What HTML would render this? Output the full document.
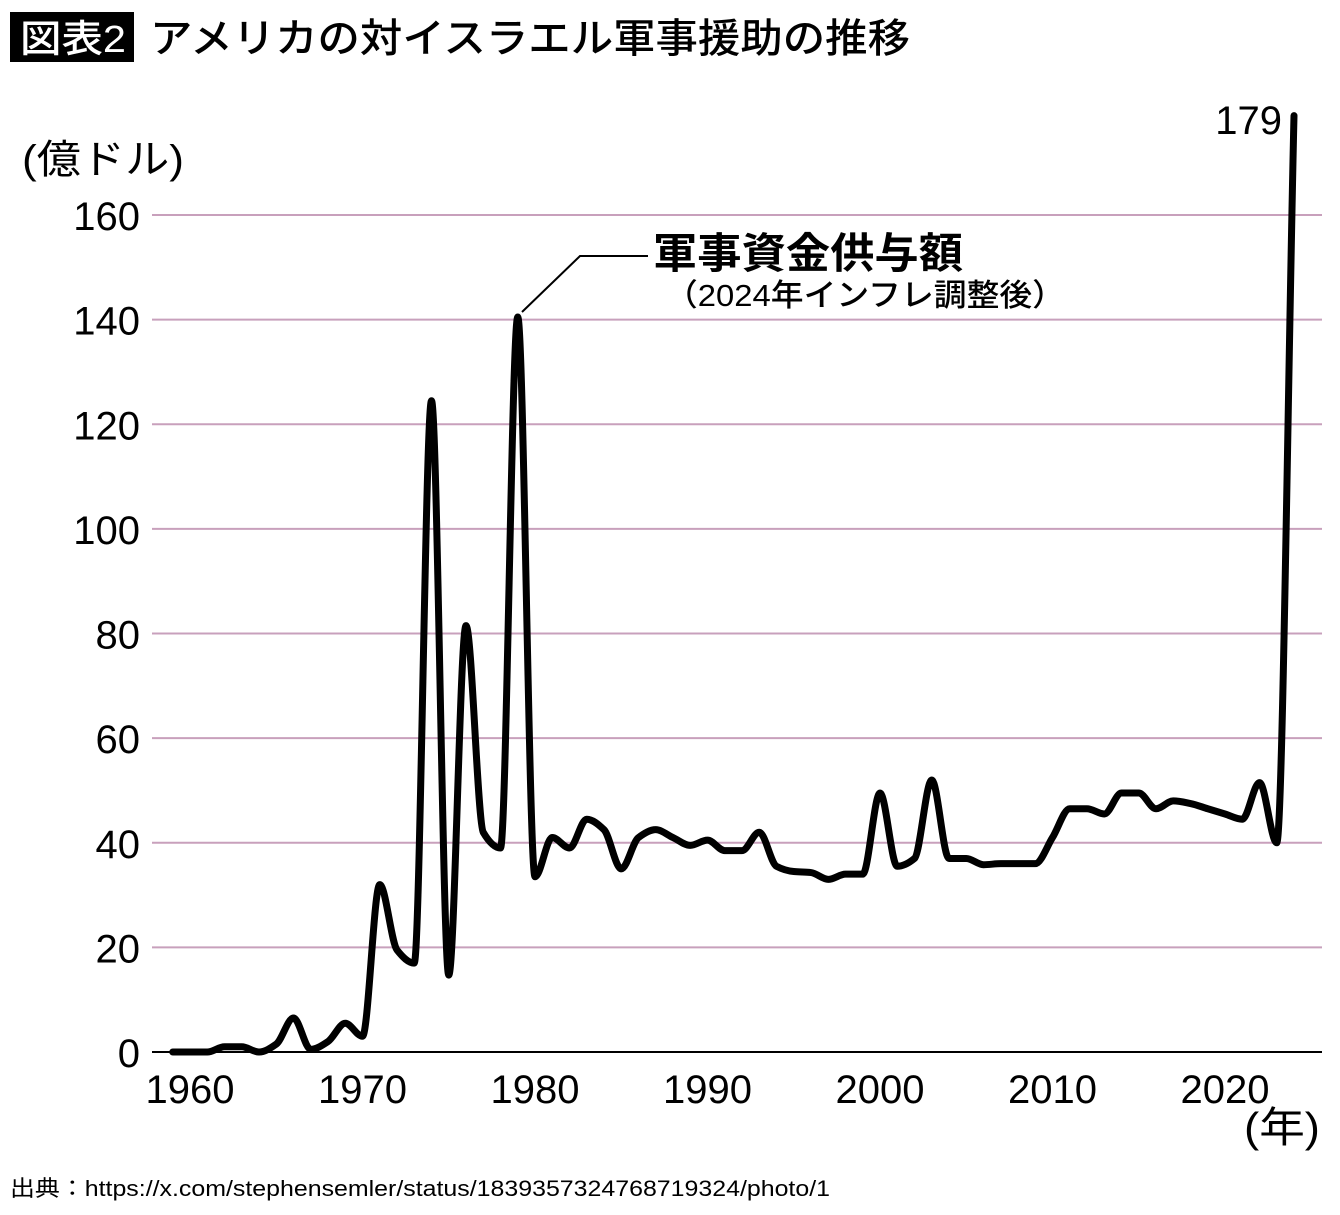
<!DOCTYPE html>
<html><head><meta charset="utf-8"><style>
html,body{margin:0;padding:0;background:#fff;}
svg text{font-family:"Liberation Sans","Noto Sans CJK JP",sans-serif;}
</style></head><body>
<svg width="1340" height="1210" viewBox="0 0 1340 1210" xmlns="http://www.w3.org/2000/svg">
<rect x="10" y="12" width="124" height="50" fill="#000"/>
<text x="20" y="52" font-size="38" font-weight="500" fill="#fff" font-family="Noto Sans CJK JP, sans-serif" textLength="106" lengthAdjust="spacingAndGlyphs">図表2</text>
<text x="150" y="52" font-size="40" font-weight="500" fill="#000" font-family="Noto Sans CJK JP, sans-serif" textLength="760" lengthAdjust="spacingAndGlyphs">アメリカの対イスラエル軍事援助の推移</text>
<text x="22" y="173" font-size="40" fill="#000" textLength="162" lengthAdjust="spacingAndGlyphs">(億ドル)</text>
<g id="grid"></g>
<g id="yticks"></g>
<g id="xticks"></g>
<text x="1244" y="1142" font-size="42" fill="#000" textLength="76" lengthAdjust="spacingAndGlyphs">(年)</text>
<path id="line" fill="none" stroke="#000" stroke-width="7" stroke-linejoin="round" stroke-linecap="round"/>
<polyline points="522,312 580,256 648,256" fill="none" stroke="#000" stroke-width="2"/>
<text x="653" y="268" font-size="42" font-weight="bold" fill="#000" font-family="Noto Sans CJK JP, sans-serif" textLength="310" lengthAdjust="spacingAndGlyphs">軍事資金供与額</text>
<text x="665" y="306" font-size="31" font-weight="500" fill="#000" font-family="Noto Sans CJK JP, sans-serif" textLength="400" lengthAdjust="spacingAndGlyphs">（2024年インフレ調整後）</text>
<text x="1282" y="134" font-size="40" fill="#000" text-anchor="end">179</text>
<text x="10" y="1196" font-size="22" fill="#000" font-family="Noto Sans CJK JP, sans-serif" textLength="820" lengthAdjust="spacingAndGlyphs">出典：https://x.com/stephensemler/status/1839357324768719324/photo/1</text>
</svg>
<script>
const years=[1959,1960,1961,1962,1963,1964,1965,1966,1967,1968,1969,1970,1971,1972,1973,1974,1975,1976,1977,1978,1979,1980,1981,1982,1983,1984,1985,1986,1987,1988,1989,1990,1991,1992,1993,1994,1995,1996,1997,1998,1999,2000,2001,2002,2003,2004,2005,2006,2007,2008,2009,2010,2011,2012,2013,2014,2015,2016,2017,2018,2019,2020,2021,2022,2023,2024];
const values=[0,0,0,1,1,0,1.5,6.5,0.5,2,5.5,3,32,19.5,17,124.5,14.7,81.5,42,39,140.5,33.5,41,39,44.5,42.5,35,41,42.5,41,39.5,40.5,38.5,38.5,42,35.5,34.5,34.3,33,34,34,49.5,35.5,37,52,37,37,35.8,36,36,36,41,46.5,46.5,45.5,49.5,49.5,46.5,48,47.5,46.5,45.5,44.5,51.5,40,179];
const yTicks=[0,20,40,60,80,100,120,140,160];
const xTicks=[1960,1970,1980,1990,2000,2010,2020];
const NS="http://www.w3.org/2000/svg";
const xs=y=>190+(y-1960)*17.25;
const ys=v=>1052-v*(1052-215)/160;
function mk(tag,attrs,parent){const e=document.createElementNS(NS,tag);for(const k in attrs)e.setAttribute(k,attrs[k]);parent.appendChild(e);return e;}
const grid=document.getElementById('grid'),yt=document.getElementById('yticks'),xt=document.getElementById('xticks');
yTicks.forEach(v=>{
  const l=mk('line',{x1:152,x2:1322,y1:ys(v),y2:ys(v),stroke:v===0?'#000':'#c8a0bc','stroke-width':2},grid);
  
  
  const t=mk('text',{x:140,y:ys(v)+15,'font-size':40,'text-anchor':'end',fill:'#000'},yt);
  t.textContent=v;
  
  
});
xTicks.forEach(y=>{
  const t=mk('text',{x:xs(y),y:1103,'font-size':40,'text-anchor':'middle',fill:'#000'},xt);
  t.textContent=y;
  
  
});
const P=years.map((y,i)=>[xs(y),ys(values[i])]);
const n=P.length, dl=[], m=[];
for(let i=0;i<n-1;i++) dl.push((P[i+1][1]-P[i][1])/(P[i+1][0]-P[i][0]));
for(let i=0;i<n;i++){
  if(i===0) m.push(dl[0]); else if(i===n-1) m.push(dl[n-2]);
  else if(dl[i-1]*dl[i]<=0) m.push(0);
  else m.push(2/(1/dl[i-1]+1/dl[i]));
}
let d='M'+P[0][0]+','+P[0][1];
for(let i=0;i<n-1;i++){
  const h=(P[i+1][0]-P[i][0])/3;
  d+=' C'+(P[i][0]+h)+','+(P[i][1]+m[i]*h)+' '+(P[i+1][0]-h)+','+(P[i+1][1]-m[i+1]*h)+' '+P[i+1][0]+','+P[i+1][1];
}
document.getElementById('line').setAttribute('d',d);
</script>
</body></html>
